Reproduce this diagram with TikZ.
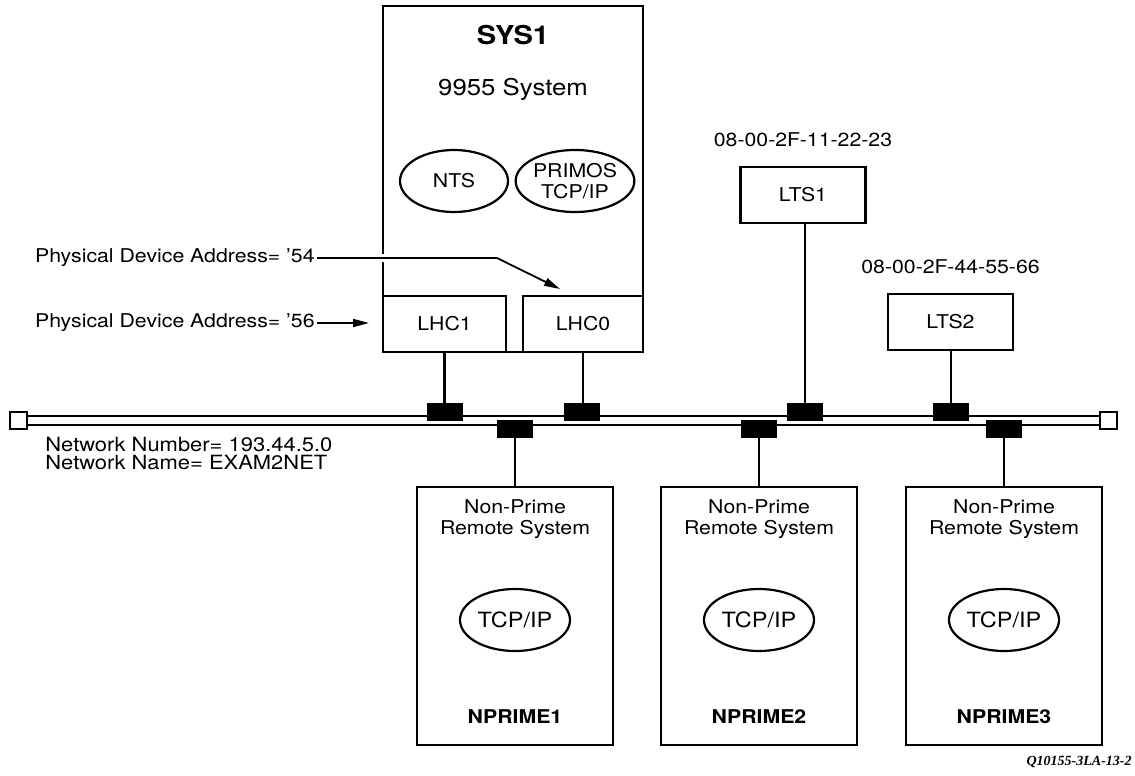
\documentclass[tikz,border=0pt]{standalone}
\usepackage{fontspec}
\setmainfont[FakeStretch=1.12]{TeX Gyre Heros}
\newfontfamily\figidfont{Liberation Serif}
\usetikzlibrary{arrows.meta,positioning,shapes.geometric}
\tikzset{
  netbox/.style={draw,line width=1.4pt,inner sep=0pt,
                 font=\fontsize{9.5}{10.5}\selectfont},
  netproc/.style={ellipse,draw,line width=1.1pt,inner sep=0pt,align=center,
                  font=\fontsize{9.5}{10.5}\selectfont},
  nettap/.style={fill=black,minimum width=18pt,minimum height=9pt,inner sep=0pt},
  netterm/.style={draw,line width=1.1pt,fill=white,minimum size=8.5pt,inner sep=0pt},
  netdrop/.style={line width=1.4pt},
  netbus/.style={line width=1pt},
  netlabel/.style={font=\fontsize{9.5}{10.5}\selectfont,inner sep=0pt,align=center},
  nettitle/.style={font=\fontsize{9.5}{10}\selectfont\bfseries,inner sep=0pt},
  netarrow/.style={-{Triangle[length=8pt,width=4pt]},line width=0.9pt}
}
\begin{document}
\begin{tikzpicture}[x=0.5pt,y=-0.5pt]
  \useasboundingbox (0,0) rectangle (1135,776);

  % host SYS1
  \node[netbox,minimum width=130pt,minimum height=173pt] (sys) at (513,179) {};
  \node[nettitle,font=\fontsize{13}{13}\selectfont\bfseries] (systitle) at (513,35) {SYS1};
  \node[netlabel,font=\fontsize{11.5}{12}\selectfont] (systype) at (513,89) {9955 System};
  \node[netproc,minimum width=54pt,minimum height=31pt] (nts) at (454,181) {NTS};
  \node[netproc,minimum width=57pt,minimum height=31pt] (primos) at (575,181) {PRIMOS\\TCP/IP};
  \node[netbox,anchor=south west,minimum width=61.5pt,minimum height=28pt] (lhcone) at (sys.south west) {LHC1};
  \node[netbox,anchor=south east,minimum width=60pt,minimum height=28pt] (lhczero) at (sys.south east) {LHC0};

  % device addresses
  \node[netlabel,anchor=east] (pda54) at (315,258) {Physical Device Address= '54};
  \node[netlabel,anchor=east] (pda56) at (315,323) {Physical Device Address= '56};
  \coordinate (pdabend) at (497,258);
  \coordinate (pdatip) at (560,289);
  \coordinate (pda56tip) at (369,323);
  \draw[netarrow,shorten <=1pt,preaction={draw,white,line width=4pt,-}] (pda54.east) -- (pdabend) -- (pdatip);
  \draw[netarrow,shorten <=1pt] (pda56.east) -- (pda56tip);

  % terminal servers
  \node[netbox,minimum width=62.5pt,minimum height=28pt] (lts1) at (803,195) {LTS1};
  \node[netlabel,above=9pt of lts1] (lts1addr) {08-00-2F-11-22-23};
  \node[netbox,minimum width=62.5pt,minimum height=28pt] (lts2) at (950.5,322) {LTS2};
  \node[netlabel,above=9pt of lts2] (lts2addr) {08-00-2F-44-55-66};

  % ethernet bus
  \node[netterm] (termw) at (18.5,420.5) {};
  \node[netterm] (terme) at (1108.5,420.5) {};
  \draw[netbus] ([yshift=2.25pt]termw.east) -- ([yshift=2.25pt]terme.west);
  \draw[netbus] ([yshift=-2.25pt]termw.east) -- ([yshift=-2.25pt]terme.west);
  \node[netlabel,align=left,anchor=north west,font=\fontsize{9.8}{8.7}\selectfont] (netinfo) at (45,437)
    {Network Number= 193.44.5.0\\Network Name= EXAM2NET};

  % upper taps
  \node[nettap] (taplhcone) at (445,412) {};
  \node[nettap] (taplhczero) at (582,412) {};
  \node[nettap] (taplts1) at (805,412) {};
  \node[nettap] (taplts2) at (951,412) {};
  \draw[netdrop] (lhcone.south) -- (lhcone.south |- taplhcone.north);
  \draw[netdrop] (lhczero.south) -- (lhczero.south |- taplhczero.north);
  \draw[netdrop] (taplts1.north) -- (taplts1.north |- lts1.south);
  \draw[netdrop] (taplts2.north) -- (taplts2.north |- lts2.south);

  % remote systems
  \foreach \i/\x in {1/515,2/759,3/1004}{
    \node[netbox,minimum width=98pt,minimum height=129pt] (np\i) at (\x,616) {};
    \node[netlabel] (nptext\i) at (\x,519) {Non-Prime\\Remote System};
    \node[netproc,minimum width=55pt,minimum height=31pt,font=\fontsize{10.5}{11}\selectfont] (nptcp\i) at (\x,620) {TCP/IP};
    \node[nettitle] (npname\i) at (\x,717) {NPRIME\i};
    \node[nettap] (tapnp\i) at (\x,429) {};
    \draw[netdrop] (tapnp\i.south) -- (np\i.north);
  }

  \node[font=\figidfont\bfseries\itshape\fontsize{7}{7}\selectfont,anchor=east,inner sep=0pt] (figid) at (1132,762) {Q10155-3LA-13-2};
\end{tikzpicture}
\end{document}
